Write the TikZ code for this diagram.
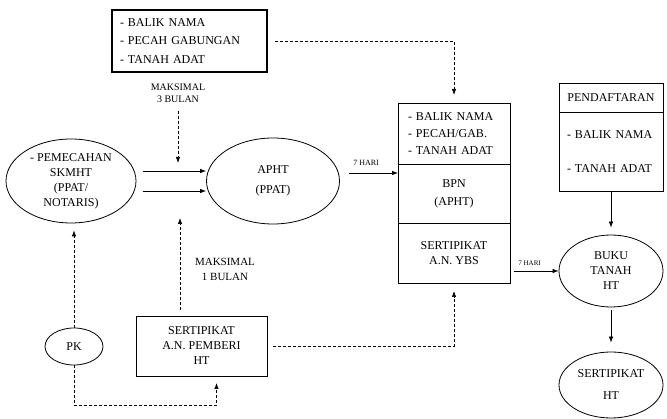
\documentclass[tikz,border=0pt]{standalone}
\usepackage{fontspec}
\setmainfont{Liberation Serif}
\usetikzlibrary{shapes}
\usetikzlibrary{positioning}
\usetikzlibrary{arrows.meta}
\tikzset{
  kotak/.style={draw=black, line width=0.8pt, inner sep=0pt, outer sep=0pt,
    font=\fontsize{12}{15}\selectfont, align=center},
  elips/.style={ellipse, draw=black, line width=0.8pt, inner sep=0pt,
    font=\fontsize{12}{15}\selectfont, align=center},
  panah/.style={->, >={Latex[length=6pt,width=4.5pt]}, line width=0.7pt},
  putus/.style={panah, dash pattern=on 3pt off 2pt},
  ket/.style={font=\fontsize{10}{12}\selectfont, align=center, inner sep=0pt},
}
\begin{document}
\begin{tikzpicture}[x=1pt,y=-1pt]

      \useasboundingbox (0,0) rectangle (667,419);

      \node[kotak, line width=1.2pt, minimum height=62pt, text width=139pt, inner xsep=8pt, align=left] (syarat) at (189.5,41) {- BALIK NAMA\\[3.5pt] - PECAH GABUNGAN\\[3.5pt] - TANAH ADAT};
      \node[elips, minimum width=130pt, minimum height=84pt] (skmht) at (71,181) {- PEMECAHAN\\SKMHT\\(PPAT/\\NOTARIS)};
      \node[elips, minimum width=133pt, minimum height=86pt] (apht) at (273,181) {APHT\\[5pt](PPAT)};

      \node[kotak, minimum height=61pt, text width=92pt, inner xsep=10pt, align=left] (bpnsyarat) at (454,133.5) {- BALIK NAMA\\[2pt] - PECAH/GAB.\\[2pt] - TANAH ADAT};
      \node[kotak, minimum width=112pt, minimum height=59pt, below=0pt of bpnsyarat] (bpnmid) {BPN\\[3pt](APHT)};
      \node[kotak, minimum width=112pt, minimum height=60pt, below=0pt of bpnmid] (bpnsert) {SERTIPIKAT\\A.N. YBS};

      \node[kotak, minimum width=104pt, minimum height=29pt] (daftar) at (611,97.5) {PENDAFTARAN};
      \node[kotak, minimum height=79pt, text width=94pt, inner xsep=5pt, align=left, below=0pt of daftar] (daftarisi) {\hspace*{3pt}- BALIK NAMA\\[19pt] \hspace*{3pt}- TANAH ADAT};

      \node[elips, minimum width=104pt, minimum height=72pt] (buku) at (611,271) {BUKU\\TANAH\\HT};
      \node[elips, minimum width=104pt, minimum height=66pt] (sertht) at (611,385) {SERTIPIKAT\\[7pt]HT};

      \node[kotak, minimum width=131pt, minimum height=60pt] (pemberi) at (201.5,346) {SERTIPIKAT\\A.N. PEMBERI\\HT};
      \node[elips, minimum width=58pt, minimum height=37pt] (pk) at (74,346.5) {PK};

      \node[ket] (maks3) at (178,93) {MAKSIMAL\\3 BULAN};
      \node[ket, font=\fontsize{11}{15}\selectfont] (maks1) at (225,269.5) {MAKSIMAL\\1 BULAN};
      \coordinate (ujung3) at (178,163);
      \coordinate (ujung1) at (180,218);

      \draw[panah] ([xshift=7pt,yshift=10pt]skmht.east) -- ([yshift=10pt]apht.west);
      \draw[panah] ([xshift=7pt,yshift=-10pt]skmht.east) -- ([yshift=-10pt]apht.west);
      \draw[putus] ([yshift=-8pt]maks3.south) -- (ujung3);
      \draw[putus] ([xshift=8pt]syarat.east) -| ([yshift=8pt]bpnsyarat.north);
      \draw[panah] ([xshift=9pt,yshift=8pt]apht.east) -- ([yshift=8pt]apht.east -| bpnmid.west) node[pos=0.35, above=7pt, inner sep=0pt, font=\fontsize{8}{9}\selectfont]{7 HARI};
      \draw[panah] ([xshift=4pt]bpnsert.east |- buku.west) -- (buku.west) node[pos=0.35, above=5pt, inner sep=0pt, font=\fontsize{7}{8}\selectfont]{7 HARI};
      \draw[panah, shorten >=7pt] (daftarisi.south) -- (buku.north);
      \draw[panah, shorten <=3pt, shorten >=9pt] (buku.south) -- (sertht.north);
      \draw[putus] ([xshift=6pt]pemberi.east) -| ([yshift=-8pt]bpnsert.south);
      \draw[putus] ([yshift=6pt]ujung1 |- pemberi.north) -- (ujung1);
      \draw[putus] (pk.north) -- ([yshift=-7pt]pk.north |- skmht.south);
      \draw[putus] (pk.south) -- ++(0,40) -| ([xshift=15pt,yshift=-7pt]pemberi.south);

\end{tikzpicture}
\end{document}
